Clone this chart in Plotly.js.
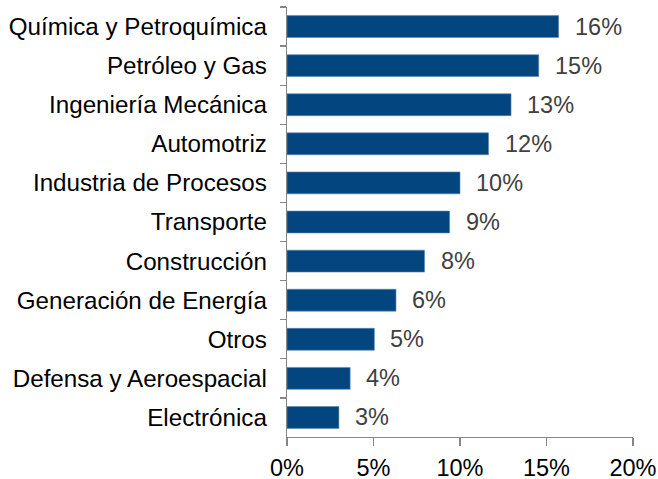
<!DOCTYPE html>
<html>
<head>
<meta charset="utf-8">
<script src="https://cdn.plot.ly/plotly-3.0.1.min.js"></script>
<style>html,body{margin:0;padding:0;background:#fff;}#chart{width:658px;height:479px;}</style>
</head>
<body>
<div id="chart"></div>
<script>
const categories = ["Química y Petroquímica","Petróleo y Gas","Ingeniería Mecánica","Automotriz","Industria de Procesos","Transporte","Construcción","Generación de Energía","Otros","Defensa y Aeroespacial","Electrónica"];
const values = [15.7, 14.55, 12.95, 11.65, 10.0, 9.4, 7.95, 6.3, 5.05, 3.65, 3.0];
const labels = ["16%","15%","13%","12%","10%","9%","8%","6%","5%","4%","3%"];
const xTicks = [0, 5, 10, 15, 20];

const FONT = "'Liberation Sans', Arial, sans-serif";
const FS = 23.5;

const trace = {
  type: "bar",
  orientation: "h",
  x: values,
  y: categories,
  marker: {color: "#03467F", line: {color: "#5b86b0", width: 0.6}},
  hoverinfo: "none"
};

const annotations = values.map((v, i) => ({
  x: v, y: categories[i], xref: "x", yref: "y",
  text: labels[i], showarrow: false, xanchor: "left", yanchor: "middle",
  xshift: 14, font: {family: FONT, size: FS, color: "#404040"}
}));

const layout = {
  width: 658, height: 479,
  margin: {l: 287, r: 25, t: 7, b: 42},
  paper_bgcolor: "#fff", plot_bgcolor: "#fff",
  showlegend: false,
  bargap: 0.44,
  font: {family: FONT, size: FS, color: "#000"},
  xaxis: {
    range: [0, 20], tickvals: xTicks, ticktext: xTicks.map(t => t + "%"),
    showgrid: false, zeroline: false,
    showline: true, linecolor: "#868686", linewidth: 1.3,
    ticks: "outside", ticklen: 8, tickcolor: "#868686", tickwidth: 1.3,
    tickfont: {family: FONT, size: FS, color: "#000"},
    ticklabelstandoff: 1, fixedrange: true
  },
  yaxis: {
    autorange: "reversed", type: "category",
    showgrid: false, zeroline: false,
    showline: true, linecolor: "#868686", linewidth: 1.3,
    ticks: "outside", ticklen: 6, tickcolor: "#868686", tickwidth: 1.3,
    tickson: "boundaries",
    tickfont: {family: FONT, size: 24.2, color: "#000"},
    ticklabelstandoff: 14, fixedrange: true
  },
  annotations: annotations
};

Plotly.newPlot("chart", [trace], layout, {displayModeBar: false, staticPlot: true});
</script>
</body>
</html>
